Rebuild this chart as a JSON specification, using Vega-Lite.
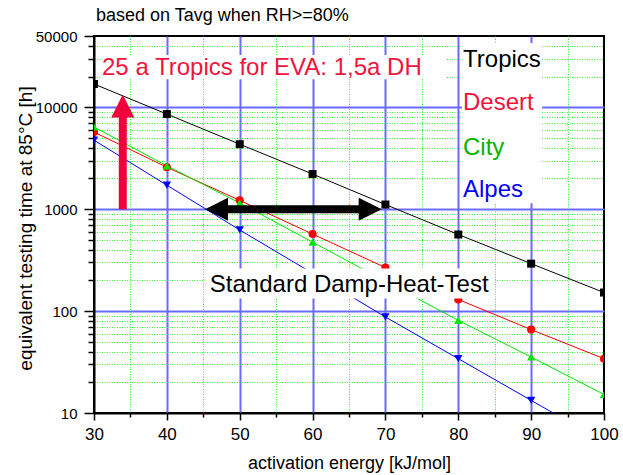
{
  "$schema": "https://vega.github.io/schema/vega-lite/v6.json",
  "width": 510,
  "height": 377,
  "autosize": {"type": "none"},
  "padding": {"left": 94, "top": 36, "right": 19, "bottom": 62},
  "background": "white",
  "config": {"view": {"stroke": "black", "strokeWidth": 2}, "font": "Liberation Sans"},
  "datasets": {
    "series": [
      {"series": "Tropics", "E": 30, "t": 16900}, {"series": "Tropics", "E": 40, "t": 8570}, {"series": "Tropics", "E": 50, "t": 4340}, {"series": "Tropics", "E": 60, "t": 2210}, {"series": "Tropics", "E": 70, "t": 1110}, {"series": "Tropics", "E": 80, "t": 564}, {"series": "Tropics", "E": 90, "t": 292}, {"series": "Tropics", "E": 100, "t": 152},
      {"series": "Desert", "E": 30, "t": 5700}, {"series": "Desert", "E": 40, "t": 2580}, {"series": "Desert", "E": 50, "t": 1220}, {"series": "Desert", "E": 60, "t": 570}, {"series": "Desert", "E": 70, "t": 267}, {"series": "Desert", "E": 80, "t": 130}, {"series": "Desert", "E": 90, "t": 65.8}, {"series": "Desert", "E": 100, "t": 34.1},
      {"series": "City", "E": 30, "t": 6400}, {"series": "City", "E": 40, "t": 2660}, {"series": "City", "E": 50, "t": 1150}, {"series": "City", "E": 60, "t": 475}, {"series": "City", "E": 70, "t": 196}, {"series": "City", "E": 80, "t": 81}, {"series": "City", "E": 90, "t": 35.4}, {"series": "City", "E": 100, "t": 15.2},
      {"series": "Alpes", "E": 30, "t": 4750}, {"series": "Alpes", "E": 40, "t": 1720}, {"series": "Alpes", "E": 50, "t": 625}, {"series": "Alpes", "E": 60, "t": 235}, {"series": "Alpes", "E": 70, "t": 87.5}, {"series": "Alpes", "E": 80, "t": 34.1}, {"series": "Alpes", "E": 90, "t": 13.3}, {"series": "Alpes", "E": 100, "t": 5.2}
    ],
    "boxes": [
      {"E": 30.9, "E2": 78.3, "t": 32500, "t2": 18800},
      {"E": 80.5, "E2": 91.5, "t": 42700, "t2": 1143},
      {"E": 45.2, "E2": 85.0, "t": 262, "t2": 133}
    ],
    "texts": [
      {"label": "25 a Tropics for EVA: 1,5a DH", "E": 31.1, "t": 20700},
      {"label": "Tropics", "E": 80.65, "t": 24980},
      {"label": "Desert", "E": 80.65, "t": 9380},
      {"label": "City", "E": 80.65, "t": 3390},
      {"label": "Alpes", "E": 80.65, "t": 1320},
      {"label": "Standard Damp-Heat-Test", "E": 45.9, "t": 153.8}
    ],
    "heading": [{"label": "based on Tavg when RH>=80%", "E": 30.27, "t": 70200}],
    "redShaft": [{"E": 33.95, "t": 1000, "t2": 9500}],
    "redHead": [{"E": 33.95, "t": 10270}],
    "blackShaft": [{"E": 47, "E2": 68, "t": 1000}],
    "blackHeads": [{"E": 46.81, "t": 1000, "dir": "left"}, {"E": 67.91, "t": 1000, "dir": "right"}]
  },
  "encoding": {
    "x": {
      "field": "E", "type": "quantitative",
      "scale": {"domain": [30, 100], "nice": false, "zero": false},
      "axis": {
        "title": "activation energy [kJ/mol]",
        "titleFont": "Liberation Sans", "titleFontSize": 18, "titleFontWeight": "normal", "titleColor": "black",
        "titleX": 255, "titleY": 55, "titleBaseline": "alphabetic", "titleAlign": "center",
        "values": [30, 35, 40, 45, 50, 55, 60, 65, 70, 75, 80, 85, 90, 95, 100],
        "labelExpr": "datum.value % 10 == 0 ? datum.label : ''",
        "labelFont": "Liberation Sans", "labelFontSize": 17, "labelColor": "black", "labelPadding": 6, "labelOverlap": false, "labelFlush": false,
        "tickColor": "black", "tickWidth": 1.5,
        "tickSize": {"condition": {"test": "datum.value % 10 == 0", "value": 7}, "value": 4},
        "domain": true, "domainColor": "black", "domainWidth": 2,
        "grid": true,
        "gridColor": {"condition": [{"test": "datum.value == 30 || datum.value == 100", "value": "transparent"}, {"test": "datum.value % 10 == 0", "value": "#6a6aff"}], "value": "#33ee33"},
        "gridWidth": {"condition": {"test": "datum.value % 10 == 0", "value": 2}, "value": 1},
        "gridDash": {"condition": {"test": "datum.value % 10 == 0", "value": []}, "value": [1, 1.5]}
      }
    },
    "y": {
      "field": "t", "type": "quantitative",
      "scale": {"type": "log", "domain": [10, 50000], "nice": false},
      "axis": {
        "title": "equivalent testing time at 85°C [h]",
        "titleFont": "Liberation Sans", "titleFontSize": 19, "titleFontWeight": "normal", "titleColor": "black",
        "titleX": -63, "titleY": 192, "titleBaseline": "alphabetic", "titleAlign": "center", "titleAngle": -90,
        "values": [10, 20, 30, 40, 50, 60, 70, 80, 90, 100, 200, 300, 400, 500, 600, 700, 800, 900, 1000, 2000, 3000, 4000, 5000, 6000, 7000, 8000, 9000, 10000, 20000, 30000, 40000, 50000],
        "format": "d",
        "labelExpr": "(datum.value == 10 || datum.value == 100 || datum.value == 1000 || datum.value == 10000 || datum.value == 50000) ? datum.label : ''",
        "labelFont": "Liberation Sans", "labelFontSize": 15, "labelColor": "black", "labelPadding": 7, "labelOverlap": false, "labelFlush": false,
        "tickColor": "black", "tickWidth": 1.5,
        "tickSize": {"condition": {"test": "datum.value == 10 || datum.value == 100 || datum.value == 1000 || datum.value == 10000 || datum.value == 50000", "value": 10}, "value": 6},
        "domain": true, "domainColor": "black", "domainWidth": 2,
        "grid": true,
        "gridColor": {"condition": [{"test": "datum.value == 10 || datum.value == 50000", "value": "transparent"}, {"test": "datum.value == 100 || datum.value == 1000 || datum.value == 10000", "value": "#6a6aff"}], "value": "#33ee33"},
        "gridWidth": {"condition": {"test": "datum.value == 100 || datum.value == 1000 || datum.value == 10000", "value": 2}, "value": 1},
        "gridDash": {"condition": {"test": "datum.value == 100 || datum.value == 1000 || datum.value == 10000", "value": []}, "value": [1, 1.5]}
      }
    }
  },
  "layer": [
    {
      "data": {"name": "series"},
      "mark": {"type": "line", "strokeWidth": 1, "clip": true},
      "encoding": {
        "color": {"field": "series", "type": "nominal", "scale": {"domain": ["Tropics", "Desert", "City", "Alpes"], "range": ["#000000", "#ff0000", "#00e600", "#0000ff"]}, "legend": null},
        "detail": {"field": "series"}
      }
    },
    {
      "data": {"name": "series"},
      "mark": {"type": "point", "filled": true, "opacity": 1, "clip": true},
      "encoding": {
        "color": {"field": "series", "type": "nominal", "scale": {"domain": ["Tropics", "Desert", "City", "Alpes"], "range": ["#000000", "#ff0000", "#00e600", "#0000ff"]}, "legend": null},
        "shape": {"field": "series", "type": "nominal", "scale": {"domain": ["Tropics", "Desert", "City", "Alpes"], "range": ["square", "circle", "triangle-up", "triangle-down"]}, "legend": null},
        "size": {"field": "series", "type": "nominal", "scale": {"domain": ["Tropics", "Desert", "City", "Alpes"], "range": [64, 70, 100, 100]}, "legend": null}
      }
    },
    {
      "data": {"name": "boxes"},
      "mark": {"type": "rect", "fill": "white", "stroke": null},
      "encoding": {"x2": {"field": "E2"}, "y2": {"field": "t2"}}
    },
    {
      "data": {"name": "texts"},
      "mark": {"type": "text", "align": "left", "baseline": "alphabetic", "fontSize": 24, "font": "Liberation Sans"},
      "encoding": {
        "text": {"field": "label"},
        "color": {"field": "label", "type": "nominal", "scale": {"domain": ["25 a Tropics for EVA: 1,5a DH", "Tropics", "Desert", "City", "Alpes", "Standard Damp-Heat-Test"], "range": ["#f0143c", "#000000", "#f0143c", "#00b400", "#0000ff", "#000000"]}, "legend": null}
      }
    },
    {
      "data": {"name": "heading"},
      "mark": {"type": "text", "align": "left", "baseline": "alphabetic", "fontSize": 18, "font": "Liberation Sans", "color": "#000000"},
      "encoding": {"text": {"field": "label"}}
    },
    {
      "data": {"name": "redShaft"},
      "mark": {"type": "rule", "color": "#f0003c", "strokeWidth": 8},
      "encoding": {"y2": {"field": "t2"}}
    },
    {
      "data": {"name": "redHead"},
      "mark": {"type": "point", "filled": true, "opacity": 1, "color": "#f0003c", "size": 529, "shape": "M-1,1L0,-1L1,1Z"},
      "encoding": {}
    },
    {
      "data": {"name": "blackShaft"},
      "mark": {"type": "rule", "color": "#000000", "strokeWidth": 8},
      "encoding": {"x2": {"field": "E2"}}
    },
    {
      "data": {"name": "blackHeads"},
      "mark": {"type": "point", "filled": true, "opacity": 1, "color": "#000000", "size": 529},
      "encoding": {
        "shape": {"field": "dir", "type": "nominal", "scale": {"domain": ["left", "right"], "range": ["M-1,0L1,-1L1,1Z", "M1,0L-1,-1L-1,1Z"]}, "legend": null}
      }
    }
  ],
  "resolve": {"scale": {"color": "independent", "shape": "independent", "size": "independent"}}
}
